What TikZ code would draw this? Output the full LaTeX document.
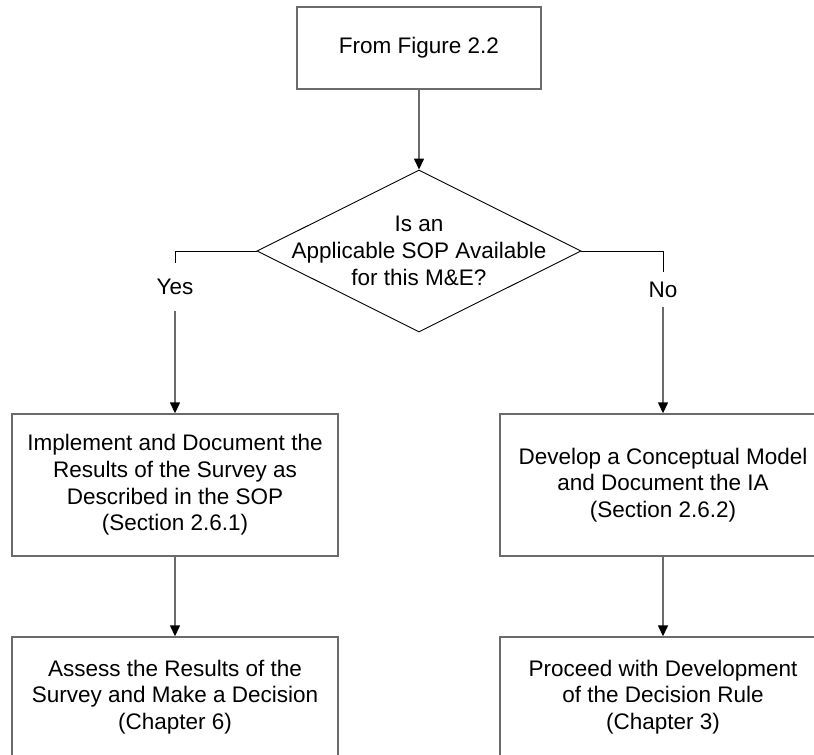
\documentclass[tikz,border=0pt]{standalone}
\usepackage{fontspec}
\setmainfont{Liberation Sans}
\usetikzlibrary{shapes.geometric,arrows.meta}

\tikzset{
  boxline/.style={draw=black!58, line width=1.4pt},
  stepbox/.style={boxline, rectangle, minimum width=326pt, align=center,
    font=\fontsize{22.5}{26.7}\selectfont, inner sep=0pt},
  topbox/.style={boxline, rectangle, minimum width=244pt, minimum height=82pt,
    font=\fontsize{22.5}{26.7}\selectfont},
  decision/.style={draw=black, line width=0.9pt, diamond, aspect=2,
    minimum width=324pt, minimum height=162pt, inner sep=0pt},
  qtext/.style={align=center, font=\fontsize{22.5}{26.7}\selectfont, inner sep=0pt},
  lbl/.style={font=\fontsize{22.5}{26.7}\selectfont, inner xsep=2pt},
  conn/.style={draw=black!58, line width=1.4pt},
  arrow/.style={conn, -{Triangle[length=11pt,width=10pt,black]}},
  hline/.style={draw=black, line width=0.9pt}
}

\begin{document}
\begin{tikzpicture}[x=1pt,y=-1pt]
  \useasboundingbox (0,0) rectangle (814,755);

  % start
  \node[topbox] (start) at (419,48) {From Figure 2.2};

  % question
  \node[decision] (q) at (419,251) {};
  \node[qtext] (qt) at (419,251) {Is an\\Applicable SOP Available\\for this M\&E?};

  % branch labels
  \node[lbl, inner ysep=16pt] (yes) at (175,287) {Yes};
  \node[lbl, inner ysep=9pt] (no) at (663,289.5) {No};

  % process boxes
  \node[stepbox, minimum height=142pt] (impl) at (175,485)
    {Implement and Document the\\Results of the Survey as\\Described in the SOP\\(Section 2.6.1)};
  \node[stepbox, minimum height=142pt] (model) at (663,485)
    {Develop a Conceptual Model\\and Document the IA\\(Section 2.6.2)};
  \node[stepbox, minimum height=120pt] (assess) at (175,697)
    {Assess the Results of the\\Survey and Make a Decision\\(Chapter 6)};
  \node[stepbox, minimum height=120pt] (rule) at (663,697)
    {Proceed with Development\\of the Decision Rule\\(Chapter 3)};

  % connectors
  \draw[arrow] (start.south) -- (q.north);
  \draw[hline] (q.west) -| (yes.north);
  \draw[arrow] (yes.south) -- (impl.north);
  \draw[hline] (q.east) -| (no.north);
  \draw[arrow] (no.south) -- (model.north);
  \draw[arrow] (impl.south) -- (assess.north);
  \draw[arrow] (model.south) -- (rule.north);
\end{tikzpicture}
\end{document}
